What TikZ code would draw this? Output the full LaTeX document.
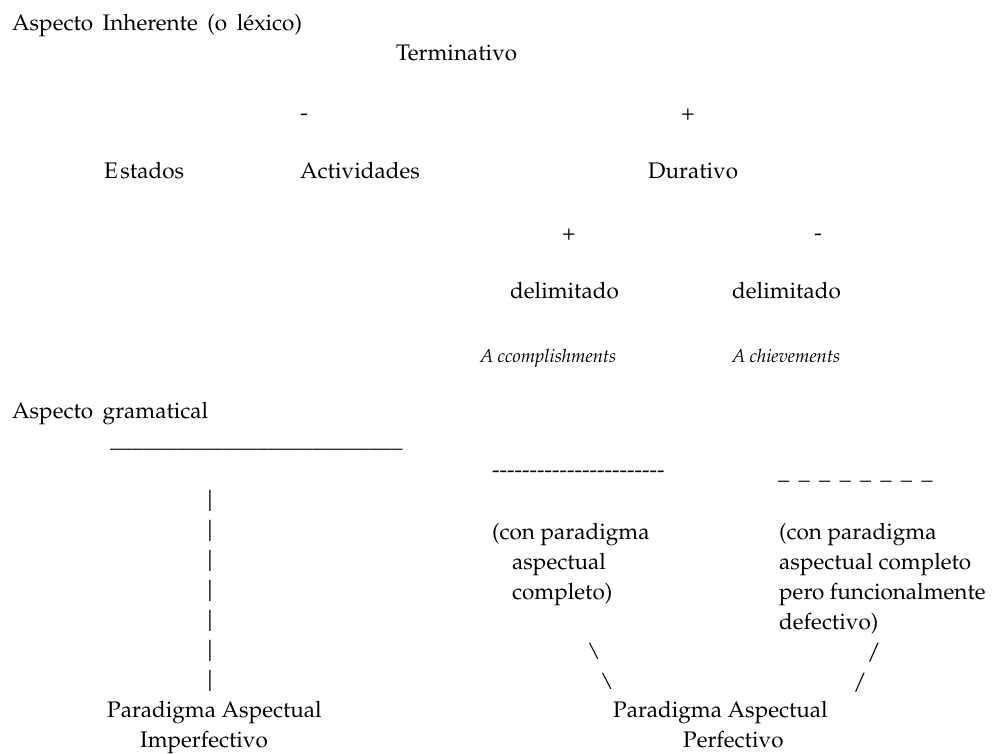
\documentclass[tikz,border=0pt]{standalone}
\usepackage[T1]{fontenc}
\usepackage{mathpazo}
\newcommand\widespaces{\spaceskip=9.6pt\relax}
\begin{document}
\begin{tikzpicture}[x=1pt,y=-1pt,
  every node/.style={inner sep=0pt,anchor=base west},
  lbl/.style={font=\fontsize{22.5}{30}\selectfont},
  ital/.style={font=\fontsize{18.5}{22}\selectfont\itshape},
  glyph/.style={font=\fontsize{22.5}{30}\selectfont,anchor=base},
  barglyph/.style={font=\fontsize{22.5}{30}\selectfont,anchor=center}]
\useasboundingbox (0,0) rectangle (998,753);

% --- Aspecto inherente ---
\node[lbl] (inh) at (12,30) {\widespaces Aspecto Inherente (o l\'exico)};
\node[lbl] (term) at (396,60) {Terminativo};
\node[glyph] (tneg) at (304,120) {-};
\node[glyph] (tpos) at (688,120) {+};
\node[lbl] (est) at (104,178) {E\kern2.5pt stados};
\node[lbl] (act) at (300,178) {Actividades};
\node[lbl] (dur) at (648,178) {Durativo};
\node[glyph] (dpos) at (569,240) {+};
\node[glyph] (dneg) at (818,240) {-};
\node[lbl] (delp) at (510,298) {delimitado};
\node[lbl] (deln) at (732,298) {delimitado};
\node[ital] (acc) at (480,362) {A\kern4pt ccomplishments};
\node[ital] (ach) at (732,362) {A\kern4pt chievements};

% --- Aspecto gramatical ---
\node[lbl] (gram) at (12,418) {\widespaces Aspecto gramatical};
\node[lbl] (uline) at (110,447) {\foreach \i in {1,...,26}{\_}};
\foreach \k in {0,...,6}
  \node[barglyph] (bar\k) at (210,501+30*\k) {\scalebox{1.05}[1.3]{\textbar}};
\node[lbl] (hline) at (492,477) {\foreach \i in {1,...,23}{-}};
\node[lbl] (uscore) at (778,479) {\foreach \i in {1,...,7}{\_\hspace{9.2pt}}\_};

\node[lbl] (ca1) at (492,539) {(con paradigma};
\node[lbl] (ca2) at (512,569) {aspectual};
\node[lbl] (ca3) at (512,599) {completo)};

\node[lbl] (cb1) at (779,539) {(con paradigma};
\node[lbl] (cb2) at (779,569) {aspectual completo};
\node[lbl] (cb3) at (779,599) {pero funcionalmente};
\node[lbl] (cb4) at (779,629) {defectivo)};

\node[glyph] (bs1) at (594,659) {\textbackslash};
\node[glyph] (bs2) at (607,689) {\textbackslash};
\node[glyph] (sl1) at (874,659) {/};
\node[glyph] (sl2) at (860,689) {/};

\node[lbl] (pi1) at (107,717) {Paradigma Aspectual};
\node[lbl] (pi2) at (140,747) {Imperfectivo};
\node[lbl] (pp1) at (613,717) {Paradigma Aspectual};
\node[lbl] (pp2) at (683,747) {Perfectivo};
\end{tikzpicture}
\end{document}
